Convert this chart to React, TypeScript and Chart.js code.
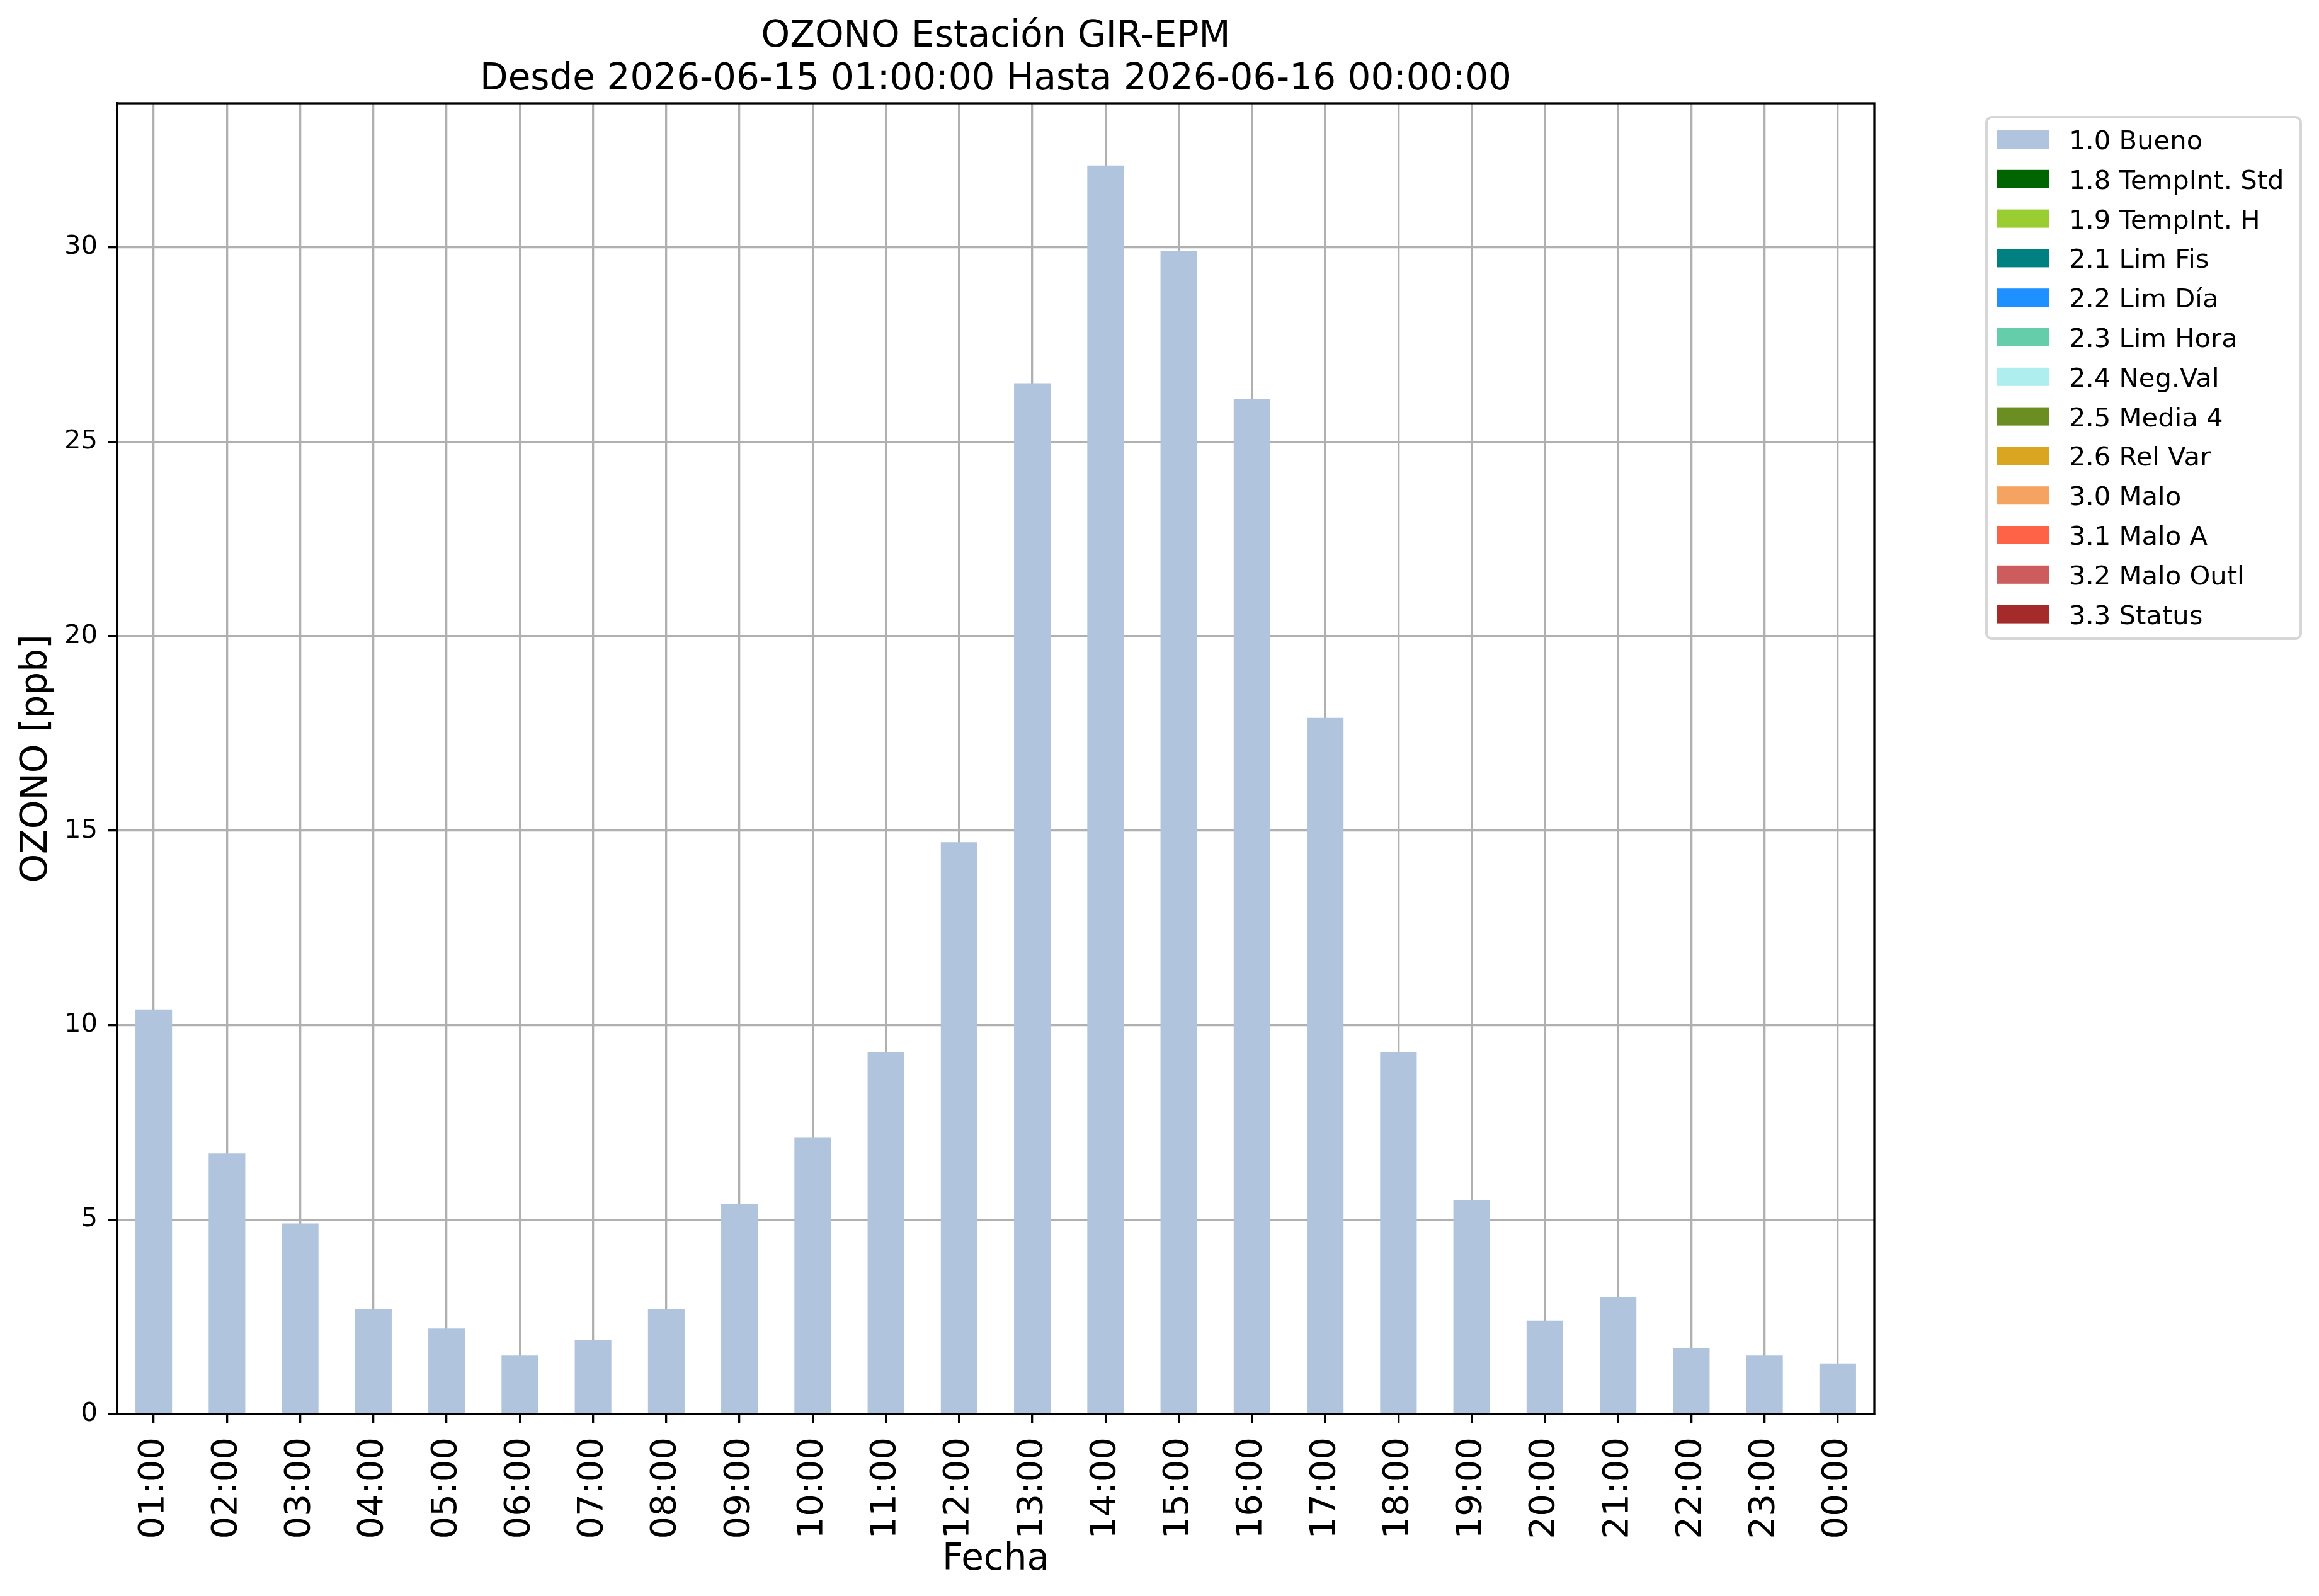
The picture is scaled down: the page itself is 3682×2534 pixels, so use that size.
import React, { useEffect, useRef } from 'react';
import { Chart, registerables } from 'chart.js';

Chart.register(...registerables);

// ---------------- data ----------------
const hours = [
  '01:00', '02:00', '03:00', '04:00', '05:00', '06:00', '07:00', '08:00',
  '09:00', '10:00', '11:00', '12:00', '13:00', '14:00', '15:00', '16:00',
  '17:00', '18:00', '19:00', '20:00', '21:00', '22:00', '23:00', '00:00',
];

const buenoValues = [
  10.4, 6.7, 4.9, 2.7, 2.2, 1.5, 1.9, 2.7, 5.4, 7.1, 9.3, 14.7,
  26.5, 32.1, 29.9, 26.1, 17.9, 9.3, 5.5, 2.4, 3.0, 1.7, 1.5, 1.3,
];

const flagLabels = [
  '1.0 Bueno', '1.8 TempInt. Std', '1.9 TempInt. H', '2.1 Lim Fis', '2.2 Lim Día',
  '2.3 Lim Hora', '2.4 Neg.Val', '2.5 Media 4', '2.6 Rel Var', '3.0 Malo',
  '3.1 Malo A', '3.2 Malo Outl', '3.3 Status',
];

const flagColors = [
  '#b0c4de', '#006400', '#9acd32', '#008080', '#1e90ff',
  '#66cdaa', '#afeeee', '#6b8e23', '#daa520', '#f4a460',
  '#ff6347', '#cd5c5c', '#a52a2a',
];

// only "1.0 Bueno" has values in this period; the other flags are empty
const flagValues: number[][] = [buenoValues, [], [], [], [], [], [], [], [], [], [], [], []];

const yMin = 0;
const yMax = 33.7;
const yStep = 5;

const titleLines = ['OZONO Estación GIR-EPM', 'Desde 2026-06-15 01:00:00 Hasta 2026-06-16 00:00:00'];
const yAxisLabel = 'OZONO [ppb]';
const xAxisLabel = 'Fecha';

// ---------------- styling ----------------
const FONT = '"DejaVu Sans", sans-serif';
const W = 3682;
const H = 2534;

const decorPlugin = {
  id: 'decor',
  afterDraw(chart: any) {
    const { ctx, chartArea: a } = chart;
    ctx.save();
    // full frame (spines)
    ctx.strokeStyle = '#000';
    ctx.lineWidth = 3.3;
    ctx.strokeRect(a.left, a.top, a.right - a.left, a.bottom - a.top);

    const cx = (a.left + a.right) / 2;
    const cy = (a.top + a.bottom) / 2;
    ctx.fillStyle = '#000';
    ctx.textAlign = 'center';
    ctx.textBaseline = 'alphabetic';
    ctx.font = `58px ${FONT}`;
    ctx.fillText(titleLines[0], cx, a.top - 90);
    ctx.fillText(titleLines[1], cx, a.top - 22);
    ctx.fillText(xAxisLabel, cx, a.bottom + 247);
    ctx.save();
    ctx.translate(a.left - 112, cy);
    ctx.rotate(-Math.PI / 2);
    ctx.fillText(yAxisLabel, 0, 0);
    ctx.restore();

    // legend
    const lx = a.right + 178;
    const ly = a.top + 22;
    const lw = 499;
    const lh = 828;
    ctx.beginPath();
    ctx.roundRect(lx, ly, lw, lh, 9);
    ctx.fillStyle = '#ffffff';
    ctx.fill();
    ctx.strokeStyle = '#d6d6d6';
    ctx.lineWidth = 4;
    ctx.stroke();

    ctx.font = `41.7px ${FONT}`;
    ctx.textAlign = 'left';
    chart.data.datasets.forEach((ds: any, i: number) => {
      const rowY = ly + 35.5 + i * 62.8;
      ctx.fillStyle = ds.backgroundColor;
      ctx.fillRect(lx + 17, rowY - 14.5, 83, 29);
      ctx.fillStyle = '#000';
      ctx.fillText(ds.label, lx + 131, rowY + 15.5);
    });
    ctx.restore();
  },
};

export default function App() {
  const canvasRef = useRef<HTMLCanvasElement | null>(null);

  useEffect(() => {
    document.body.style.margin = '0';
    const canvas = canvasRef.current;
    if (!canvas) return;
    Chart.defaults.font.family = FONT;

    const chart = new Chart(canvas, {
      type: 'bar',
      data: {
        labels: hours,
        datasets: flagLabels.map((label, i) => ({
          label,
          data: flagValues[i],
          backgroundColor: flagColors[i],
          borderWidth: 0,
          barPercentage: 0.5,
          categoryPercentage: 1.0,
        })),
      },
      options: {
        animation: false,
        responsive: false,
        devicePixelRatio: 1,
        layout: { padding: { left: 0, top: 164, right: W - 2976, bottom: 0 } },
        plugins: {
          legend: { display: false },
          title: { display: false },
          tooltip: { enabled: false },
        },
        scales: {
          x: {
            stacked: true,
            offset: true,
            z: 1,
            afterFit: (s: any) => { s.height = H - 2245; },
            grid: {
              offset: false,
              color: '#b0b0b0',
              lineWidth: 3.3,
              drawTicks: true,
              tickLength: 15,
              tickColor: '#000',
              tickWidth: 3.3,
            },
            border: { display: true, color: '#000', width: 3.3 },
            ticks: {
              autoSkip: false,
              maxRotation: 90,
              minRotation: 90,
              padding: 22,
              color: '#000',
              font: { size: 56, family: FONT },
            },
          },
          y: {
            stacked: true,
            min: yMin,
            max: yMax,
            z: 1,
            afterFit: (s: any) => { s.width = 186; },
            grid: {
              color: '#b0b0b0',
              lineWidth: 3.3,
              drawTicks: true,
              tickLength: 15,
              tickColor: '#000',
              tickWidth: 3.3,
            },
            border: { display: true, color: '#000', width: 3.3 },
            ticks: {
              stepSize: yStep,
              includeBounds: false,
              padding: 16,
              color: '#000',
              font: { size: 41.7, family: FONT },
            },
          },
        },
      },
      plugins: [decorPlugin],
    });

    return () => chart.destroy();
  }, []);

  return (
    <div style={{ width: W, height: H, background: '#fff' }}>
      <canvas ref={canvasRef} width={W} height={H} style={{ display: 'block', width: W, height: H }} />
    </div>
  );
}
